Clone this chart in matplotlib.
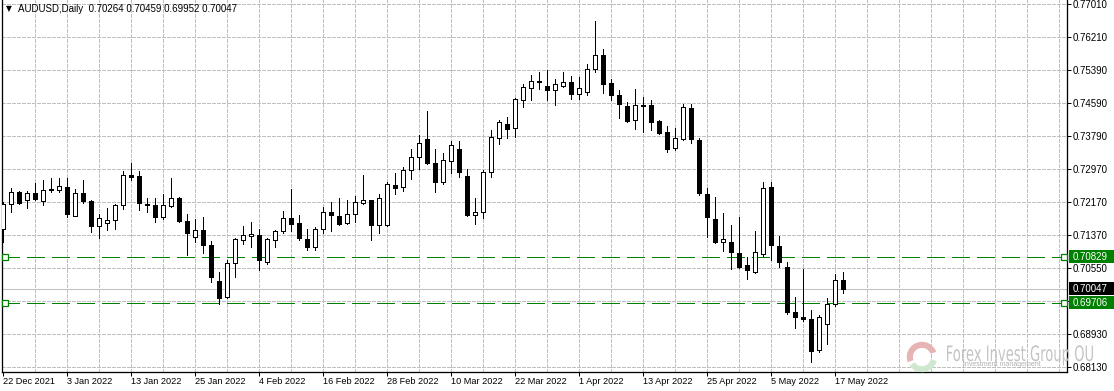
import matplotlib
matplotlib.use("Agg")
import matplotlib.pyplot as plt
from matplotlib.patches import Rectangle, Wedge, PathPatch
from matplotlib.textpath import TextPath
from matplotlib.font_manager import FontProperties
from matplotlib.transforms import Affine2D

# AUDUSD daily candles, 22 Dec 2021 .. 18 May 2022
opens = [0.7151, 0.7211, 0.7240, 0.7221, 0.7238, 0.7218, 0.7248, 0.7245, 0.7253, 0.7183,
         0.7238, 0.7218, 0.7159, 0.7165, 0.7172, 0.7209, 0.7282, 0.7280, 0.7211, 0.7209,
         0.7181, 0.7208, 0.7226, 0.7170, 0.7130, 0.7147, 0.7111, 0.7023, 0.6985, 0.7067,
         0.7123, 0.7133, 0.7135, 0.7069, 0.7123, 0.7145, 0.7177, 0.7165, 0.7126, 0.7107,
         0.7150, 0.7192, 0.7182, 0.7166, 0.7187, 0.7215, 0.7221, 0.7160, 0.7160, 0.7258,
         0.7253, 0.7294, 0.7326, 0.7370, 0.7311, 0.7266, 0.7316, 0.7346, 0.7280, 0.7184,
         0.7191, 0.7289, 0.7373, 0.7407, 0.7397, 0.7465, 0.7495, 0.7512, 0.7500, 0.7490,
         0.7500, 0.7510, 0.7480, 0.7485, 0.7541, 0.7576, 0.7507, 0.7478, 0.7451, 0.7417,
         0.7454, 0.7453, 0.7414, 0.7387, 0.7348, 0.7370, 0.7446, 0.7368, 0.7236, 0.7174,
         0.7118, 0.7118, 0.7091, 0.7063, 0.7045, 0.7090, 0.7253, 0.7109, 0.7057, 0.6948,
         0.6935, 0.6931, 0.6854, 0.6917, 0.6966, 0.70264]
highs = [0.7217, 0.7252, 0.7244, 0.7244, 0.7263, 0.7271, 0.7275, 0.7275, 0.7275, 0.7248,
         0.7271, 0.7221, 0.7187, 0.7201, 0.7211, 0.7293, 0.7312, 0.7293, 0.7227, 0.7226,
         0.7236, 0.7275, 0.7228, 0.7187, 0.7175, 0.7179, 0.7121, 0.7045, 0.7074, 0.7128,
         0.7158, 0.7167, 0.7151, 0.7128, 0.7147, 0.7194, 0.7249, 0.7185, 0.7150, 0.7156,
         0.7205, 0.7217, 0.7226, 0.7221, 0.7231, 0.7283, 0.7222, 0.7235, 0.7265, 0.7288,
         0.7303, 0.7346, 0.7380, 0.7439, 0.7346, 0.7336, 0.7367, 0.7367, 0.7297, 0.7226,
         0.7295, 0.7392, 0.7417, 0.7424, 0.7470, 0.7505, 0.7528, 0.7535, 0.7540, 0.7517,
         0.7535, 0.7525, 0.7522, 0.7554, 0.7659, 0.7591, 0.7517, 0.7491, 0.7462, 0.7493,
         0.7474, 0.7465, 0.7417, 0.7402, 0.7397, 0.7457, 0.7456, 0.7374, 0.7250, 0.7228,
         0.7189, 0.7160, 0.7180, 0.7081, 0.7146, 0.7266, 0.7266, 0.7134, 0.7071, 0.6984,
         0.7053, 0.6953, 0.6940, 0.6982, 0.7041, 0.70459]
lows = [0.7118, 0.7193, 0.7212, 0.7203, 0.7221, 0.7209, 0.7240, 0.7242, 0.7181, 0.7182,
        0.7213, 0.7144, 0.7128, 0.7147, 0.7151, 0.7199, 0.7271, 0.7196, 0.7193, 0.7168,
        0.7176, 0.7205, 0.7168, 0.7088, 0.7120, 0.7093, 0.7022, 0.6966, 0.6983, 0.7033,
        0.7113, 0.7107, 0.7050, 0.7064, 0.7106, 0.7140, 0.7146, 0.7124, 0.7099, 0.7099,
        0.7142, 0.7146, 0.7161, 0.7163, 0.7168, 0.7212, 0.7124, 0.7140, 0.7159, 0.7236,
        0.7244, 0.7274, 0.7297, 0.7309, 0.7242, 0.7261, 0.7287, 0.7279, 0.7182, 0.7164,
        0.7178, 0.7279, 0.7358, 0.7372, 0.7375, 0.7448, 0.7465, 0.7492, 0.7465, 0.7453,
        0.7499, 0.7468, 0.7469, 0.7478, 0.7534, 0.7484, 0.7465, 0.7423, 0.7412, 0.7395,
        0.7389, 0.7393, 0.7383, 0.7339, 0.7343, 0.7369, 0.7362, 0.7233, 0.7132, 0.7117,
        0.7097, 0.7053, 0.7055, 0.7028, 0.7044, 0.7085, 0.7075, 0.7057, 0.6943, 0.6909,
        0.6926, 0.6826, 0.6850, 0.6869, 0.6963, 0.69952]
closes = [0.7211, 0.7240, 0.7213, 0.7238, 0.7223, 0.7245, 0.7245, 0.7255, 0.7188, 0.7238,
          0.7218, 0.7159, 0.7177, 0.7172, 0.7209, 0.7282, 0.7278, 0.7213, 0.7209, 0.7181,
          0.7209, 0.7226, 0.7171, 0.7142, 0.7147, 0.7112, 0.7033, 0.6983, 0.7067, 0.7125,
          0.7135, 0.7138, 0.7074, 0.7125, 0.7145, 0.7177, 0.7164, 0.7129, 0.7107, 0.7150,
          0.7192, 0.7186, 0.7164, 0.7187, 0.7216, 0.7221, 0.7160, 0.7226, 0.7260, 0.7252,
          0.7294, 0.7326, 0.7360, 0.7313, 0.7266, 0.7319, 0.7355, 0.7291, 0.7185, 0.7192,
          0.7289, 0.7375, 0.7412, 0.7396, 0.7468, 0.7497, 0.7512, 0.7509, 0.7490, 0.7505,
          0.7510, 0.7480, 0.7495, 0.7541, 0.7576, 0.7506, 0.7478, 0.7457, 0.7416, 0.7453,
          0.7452, 0.7413, 0.7386, 0.7346, 0.7373, 0.7448, 0.7370, 0.7239, 0.7179, 0.7120,
          0.7125, 0.7094, 0.7057, 0.7050, 0.7094, 0.7250, 0.7111, 0.7069, 0.6947, 0.6936,
          0.6931, 0.6851, 0.6935, 0.6967, 0.7025, 0.70047]

date_labels = ["22 Dec 2021", "3 Jan 2022", "13 Jan 2022", "25 Jan 2022", "4 Feb 2022",
               "16 Feb 2022", "28 Feb 2022", "10 Mar 2022", "22 Mar 2022", "1 Apr 2022",
               "13 Apr 2022", "25 Apr 2022", "5 May 2022", "17 May 2022"]
price_ticks = [0.77010, 0.76210, 0.75390, 0.74590, 0.73790, 0.72970, 0.72170,
               0.71370, 0.70550, 0.69750, 0.68930, 0.68130]
level_hi = 0.70829
level_lo = 0.69706
last_price = 0.70047
header = "AUDUSD,Daily  0.70264 0.70459 0.69952 0.70047"
brand = "Forex Invest Group OU"
brand_sub = "Investment management"

W, H = 1114, 391
FONT = ["Liberation Sans", "DejaVu Sans"]
GRID = "#c0c0c0"
GREEN = "#008000"
px = 0.72  # one pixel in points

fig = plt.figure(figsize=(W / 100, H / 100), dpi=100)
fig.patch.set_facecolor("white")
ax = fig.add_axes([2 / W, (H - 372) / H, 1065 / W, 372 / H])

# price per pixel on the vertical scale
pp = (price_ticks[0] - price_ticks[-1]) / 363
ax.set_ylim(price_ticks[-1] - 5 * pp, price_ticks[0] + 4 * pp)
ax.set_xlim(-0.125, 133)

# grid
for p in price_ticks:
    ax.axhline(p, color=GRID, lw=px, ls=(0, (3, 2)), zorder=1, antialiased=False)
for b in range(4, 133, 4):
    ax.axvline(b, color=GRID, lw=px, ls=(0, (3, 2)), zorder=1, antialiased=False)

# last price + levels
ax.axhline(last_price, color=GRID, lw=px, zorder=1, antialiased=False)
for lv in (level_hi, level_lo):
    ax.axhline(lv, color=GREEN, lw=px, ls=(0, (17, 7)), zorder=2, antialiased=False)
    ax.plot([0.3, 132.6], [lv, lv], ls="none", marker="s", ms=4.2, mfc="white",
            mec=GREEN, mew=0.9, zorder=5, clip_on=False)

# candles
for i in range(len(opens)):
    o, h, l, c = opens[i], highs[i], lows[i], closes[i]
    ax.plot([i, i], [l, h], color="black", lw=px, zorder=3,
            solid_capstyle="butt", antialiased=False)
    face = "white" if c > o else "black"
    ax.add_patch(Rectangle((i - 0.25, min(o, c)), 0.5, max(abs(c - o), pp * 0.3),
                           facecolor=face, edgecolor="black", lw=px, zorder=4,
                           antialiased=False))

# axes / ticks
for s in ("left", "right", "bottom"):
    ax.spines[s].set_color("black")
    ax.spines[s].set_linewidth(px * 1.3)
ax.spines["top"].set_visible(False)

ax.yaxis.tick_right()
ax.set_yticks(price_ticks)
ax.set_yticklabels(["%.5f" % p for p in price_ticks])
ax.tick_params(axis="y", length=4 * px, width=px, pad=2 * px, labelsize=7, colors="black")

ax.set_xticks(range(0, 8 * len(date_labels), 8))
ax.set_xticklabels(date_labels, ha="left")
ax.tick_params(axis="x", length=4 * px, width=px, pad=1.5 * px, labelsize=6.6, colors="black")
for t in ax.get_xticklabels() + ax.get_yticklabels():
    t.set_family(FONT)

# price boxes on the right scale
yax = ax.get_yaxis_transform()
for val, col in ((level_hi, GREEN), (last_price, "black"), (level_lo, GREEN)):
    ax.add_patch(Rectangle(((1069 - 2) / 1065, val - 6.5 * pp), 0.05, 13 * pp,
                           transform=yax, facecolor=col, edgecolor="none",
                           zorder=10, clip_on=False))
    ax.text((1073 - 2) / 1065, val, "%.5f" % val, transform=yax, color="white",
            fontsize=7, family=FONT, va="center", ha="left", zorder=11, clip_on=False)

# header
fig.text(6 / W, 1 - 8.5 / H, "\u25bc", fontsize=5.5, family=["DejaVu Sans"], va="center")
fig.text(18 / W, 1 - 9 / H, header, fontsize=7, family=FONT, va="center", color="black")

# watermark (logo ring + condensed brand text)
lax = fig.add_axes([(922 - 16) / W, (H - 357 - 16) / H, 32 / W, 32 / H])
lax.set_xlim(-1, 1)
lax.set_ylim(-1, 1)
lax.axis("off")
lax.add_patch(Wedge((0, 0), 0.95, 20, 200, width=0.38, facecolor="#e7b4b4", edgecolor="none"))
lax.add_patch(Wedge((0, 0), 0.95, 215, 345, width=0.38, facecolor="#cfe6cf", edgecolor="none"))

tp = TextPath((0, 0), brand, size=10, prop=FontProperties(family="DejaVu Sans"))
ext = tp.get_extents()
sx = 146 / ext.width
sy = 15.5 / 7.3
tr = Affine2D().translate(-ext.x0, 0).scale(sx, sy).translate(947, H - 361)
fig.add_artist(PathPatch(tp, transform=tr, facecolor="#c4c4c4", edgecolor="none", zorder=20))
fig.text(963 / W, 1 - 365 / H, brand_sub, fontsize=5,
         family=FONT, color="#b0b0b0", va="center", zorder=20)

fig.savefig("out.png", dpi=100, facecolor="white")
